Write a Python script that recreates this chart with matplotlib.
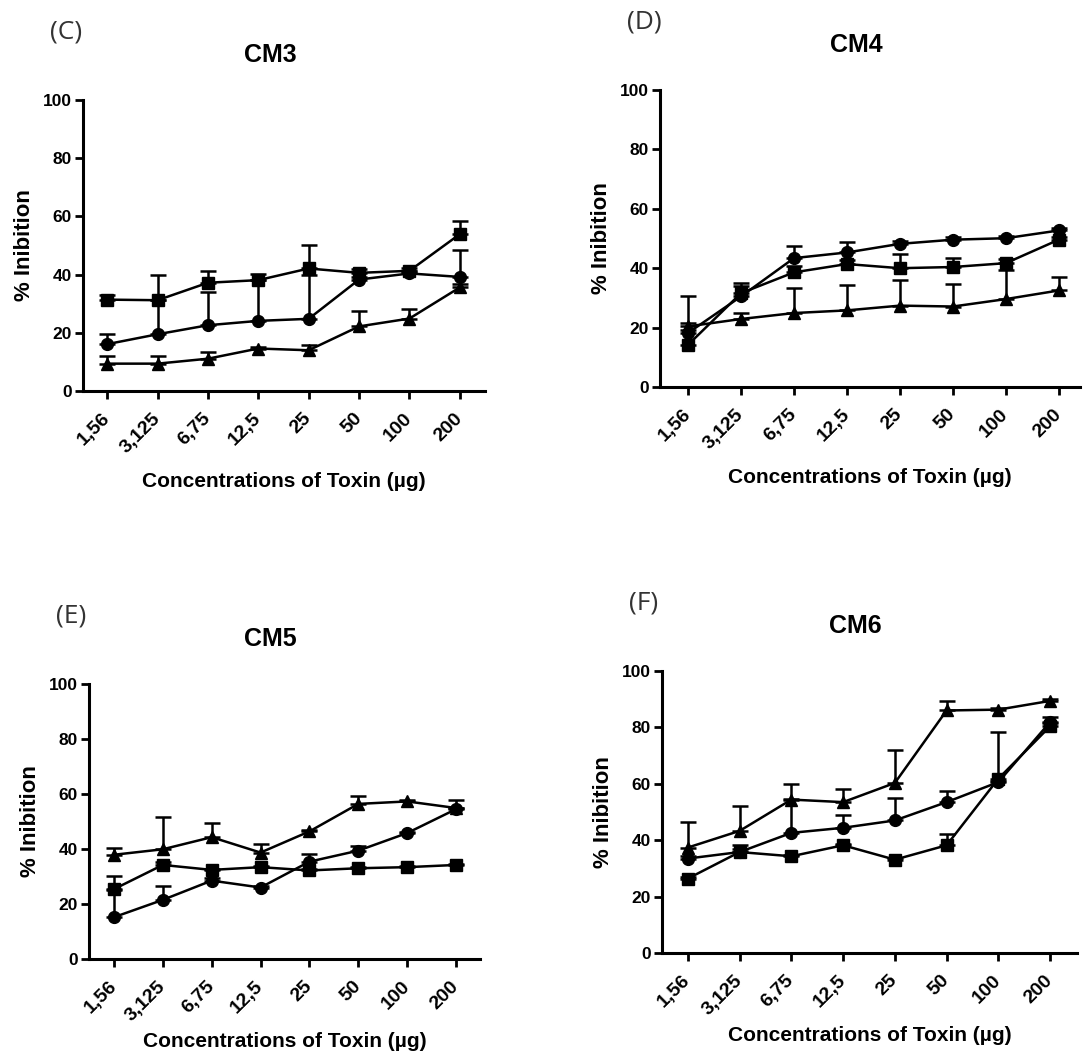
import matplotlib
matplotlib.use("Agg")
import matplotlib.pyplot as plt
import numpy as np

concentrations = ["1,56", "3,125", "6,75", "12,5", "25", "50", "100", "200"]

# CM3 (C)
cm3_squares = [31.4, 31.2, 37.2, 38.1, 42.1, 40.6, 41.3, 53.9]
cm3_squares_err = [1.5, 8.6, 4.1, 2.0, 8.1, 1.2, 1.0, 4.4]
cm3_circles = [16.1, 19.5, 22.6, 24.1, 24.8, 38.3, 40.4, 39.2]
cm3_circles_err = [3.6, 11.7, 11.4, 14.0, 15.0, 1.0, 1.0, 9.2]
cm3_triangles = [9.4, 9.4, 11.1, 14.6, 14.0, 22.2, 24.9, 35.6]
cm3_triangles_err = [2.5, 2.5, 2.3, 0.5, 1.7, 5.3, 3.4, 1.0]

# CM4 (D)
cm4_squares = [14.2, 31.6, 38.6, 41.4, 40.0, 40.4, 41.7, 49.6]
cm4_squares_err = [16.5, 3.4, 2.0, 1.5, 4.8, 3.0, 1.5, 1.0]
cm4_circles = [18.2, 30.5, 43.4, 45.3, 48.2, 49.6, 50.1, 52.7]
cm4_circles_err = [1.0, 3.5, 4.1, 3.6, 0.8, 0.8, 0.8, 0.8]
cm4_triangles = [20.4, 22.9, 24.9, 25.8, 27.4, 27.1, 29.6, 32.5]
cm4_triangles_err = [1.0, 2.0, 8.4, 8.6, 8.5, 7.7, 9.9, 4.5]

# CM5 (E)
cm5_squares = [25.4, 34.2, 32.4, 33.4, 32.2, 33.0, 33.4, 34.2]
cm5_squares_err = [4.8, 1.0, 0.5, 0.5, 0.5, 0.5, 0.5, 0.5]
cm5_circles = [15.2, 21.5, 28.5, 26.0, 35.4, 39.4, 45.8, 54.5]
cm5_circles_err = [10.0, 5.1, 1.0, 0.5, 2.8, 1.7, 0.5, 0.5]
cm5_triangles = [37.9, 39.9, 44.3, 38.7, 46.4, 56.4, 57.3, 54.9]
cm5_triangles_err = [2.6, 11.9, 5.3, 3.2, 0.5, 2.7, 0.5, 3.0]

# CM6 (F)
cm6_squares = [26.4, 35.8, 34.3, 38.2, 33.1, 38.2, 61.8, 80.4]
cm6_squares_err = [0.5, 2.4, 0.5, 0.5, 0.5, 3.9, 16.6, 1.0]
cm6_circles = [33.5, 35.8, 42.6, 44.4, 47.0, 53.5, 60.6, 81.9]
cm6_circles_err = [1.0, 1.0, 12.0, 4.4, 8.1, 3.9, 0.5, 1.7]
cm6_triangles = [37.4, 43.3, 54.4, 53.5, 60.3, 86.0, 86.3, 89.4]
cm6_triangles_err = [9.1, 8.7, 5.4, 4.8, 11.8, 3.4, 0.5, 0.5]

BOLD = {"family": "Liberation Sans", "weight": "bold"}
W, H = 1083, 1056


def draw_panel(rect, letter, title, series, xlim, xpad):
    left, top, right, bottom = rect
    ax = fig.add_axes([left / W, 1 - bottom / H, (right - left) / W, (bottom - top) / H])
    x = np.arange(len(concentrations))
    for values, errs, marker, ms in series:
        yerr = [np.zeros(len(values)), errs]
        ax.errorbar(x, values, yerr=yerr, color="black", marker=marker, ms=ms,
                    lw=1.8, elinewidth=1.8, capsize=6, capthick=1.8, clip_on=False)
    ax.set_ylim(0, 100)
    ax.set_xlim(*xlim)
    ax.set_yticks([0, 20, 40, 60, 80, 100])
    ax.set_xticks(x)
    ax.set_xticklabels(concentrations, rotation=45, ha="right", va="center",
                       rotation_mode="anchor", fontsize=14, **BOLD)
    for lab in ax.get_yticklabels():
        lab.set_fontsize(12.5)
        lab.set_fontfamily("Liberation Sans")
        lab.set_fontweight("bold")
    ax.tick_params(axis="both", width=2, length=6, color="black")
    ax.tick_params(axis="x", pad=12)
    ax.tick_params(axis="y", pad=2)
    for s in ["top", "right"]:
        ax.spines[s].set_visible(False)
    for s in ["left", "bottom"]:
        ax.spines[s].set_linewidth(2.2)
    ax.set_xlabel("Concentrations of Toxin (µg)", fontsize=15, labelpad=xpad, **BOLD)
    ax.set_ylabel("% Inibition", fontsize=16, labelpad=6, **BOLD)
    cx = (left + right) / 2 - 14
    fig.text(cx / W, 1 - (top - 45) / H, title, ha="center", va="center", fontsize=18, **BOLD)
    fig.text((left - 33) / W, 1 - (top - 68) / H, letter, ha="left", va="center",
             fontsize=19, family="Open Sans", color="#333333")
    return ax


fig = plt.figure(figsize=(W / 100, H / 100), dpi=100)

draw_panel((83, 100, 485, 391), "(C)", "CM3",
           [(cm3_squares, cm3_squares_err, "s", 8.5),
            (cm3_circles, cm3_circles_err, "o", 8.5),
            (cm3_triangles, cm3_triangles_err, "^", 9)], (-0.48, 7.5), 11)
draw_panel((660, 90, 1080, 387), "(D)", "CM4",
           [(cm4_squares, cm4_squares_err, "s", 8.5),
            (cm4_circles, cm4_circles_err, "o", 8.5),
            (cm4_triangles, cm4_triangles_err, "^", 9)], (-0.53, 7.4), 11)
draw_panel((89, 684, 480, 959), "(E)", "CM5",
           [(cm5_squares, cm5_squares_err, "s", 8.5),
            (cm5_circles, cm5_circles_err, "o", 8.5),
            (cm5_triangles, cm5_triangles_err, "^", 9)], (-0.51, 7.49), 5)
draw_panel((662, 671, 1077, 953), "(F)", "CM6",
           [(cm6_squares, cm6_squares_err, "s", 8.5),
            (cm6_circles, cm6_circles_err, "o", 8.5),
            (cm6_triangles, cm6_triangles_err, "^", 9)], (-0.5, 7.52), 5)

fig.savefig("out.png", dpi=100)
